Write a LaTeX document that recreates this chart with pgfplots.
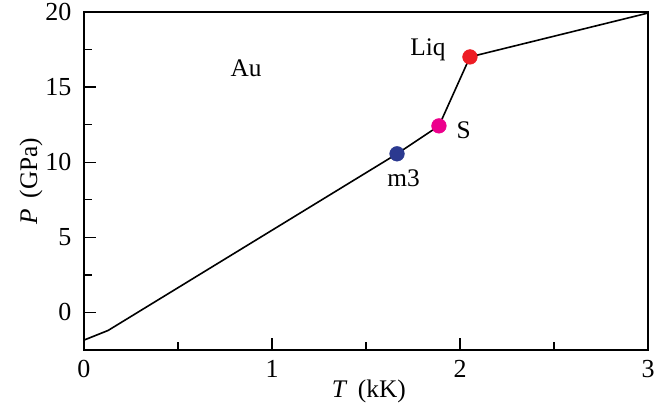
\documentclass[border=0pt]{standalone}
\usepackage{pgfplots}
\pgfplotsset{compat=1.18}
\usepackage{fontspec}
\setmainfont{Liberation Serif}
\definecolor{cblue}{HTML}{2B3990}
\definecolor{cmag}{HTML}{EC008C}
\definecolor{cred}{HTML}{ED1C24}
\begin{document}
\fontsize{19}{22}\selectfont
\begin{tikzpicture}[x=0.75pt,y=0.75pt]
\begin{axis}[
  scale only axis,
  width=423pt, height=253.5pt,
  xmin=0, xmax=3, ymin=-2.5, ymax=20,
  xtick={0,1,2,3}, ytick={0,5,10,15,20},
  xticklabels={0,1,2,3}, yticklabels={0,5,10,15,20},
  minor x tick num=1, minor y tick num=1,
  tick align=inside, xtick pos=left, ytick pos=left,
  major tick length=9pt, minor tick length=6pt,
  every tick/.style={black, line width=1pt},
  axis line style={line width=1pt},
  tick label style={font=\fontsize{19.5}{22}\selectfont},
  label style={font=\fontsize{19}{22}\selectfont},
  xticklabel style={yshift=-1pt},
  yticklabel style={xshift=-3pt},
  xlabel={\textit{T}\ \,(kK)},
  ylabel={\textit{P}\ \,(GPa)},
  xlabel style={at={(axis description cs:0.505,-0.122)}, anchor=center},
  ylabel style={at={(axis description cs:-0.094,0.5)}, anchor=center},
  clip=false,
]
\addplot[black, line width=1.2pt] coordinates {
 (0,-1.84) (0.128,-1.2) (1.665,10.56) (1.888,12.42) (2.053,17.01) (3,19.93)
};
\addplot[only marks, mark=*, mark size=5.5pt, color=cblue] coordinates {(1.665,10.56)};
\addplot[only marks, mark=*, mark size=5.5pt, color=cmag] coordinates {(1.888,12.42)};
\addplot[only marks, mark=*, mark size=5.5pt, color=cred] coordinates {(2.053,17.01)};
\node at (axis cs:0.862,16.28) {Au};
\node at (axis cs:1.83,17.5) {Liq};
\node at (axis cs:2.02,12.15) {S};
\node at (axis cs:1.70,8.95) {m3};
\end{axis}
\pgfresetboundingbox
\path (current axis.south west) ++(-63pt,-43.5pt) coordinate (bl);
\path (current axis.north east) ++(9pt,9pt) coordinate (tr);
\useasboundingbox (bl) rectangle (tr);
\end{tikzpicture}
\end{document}
